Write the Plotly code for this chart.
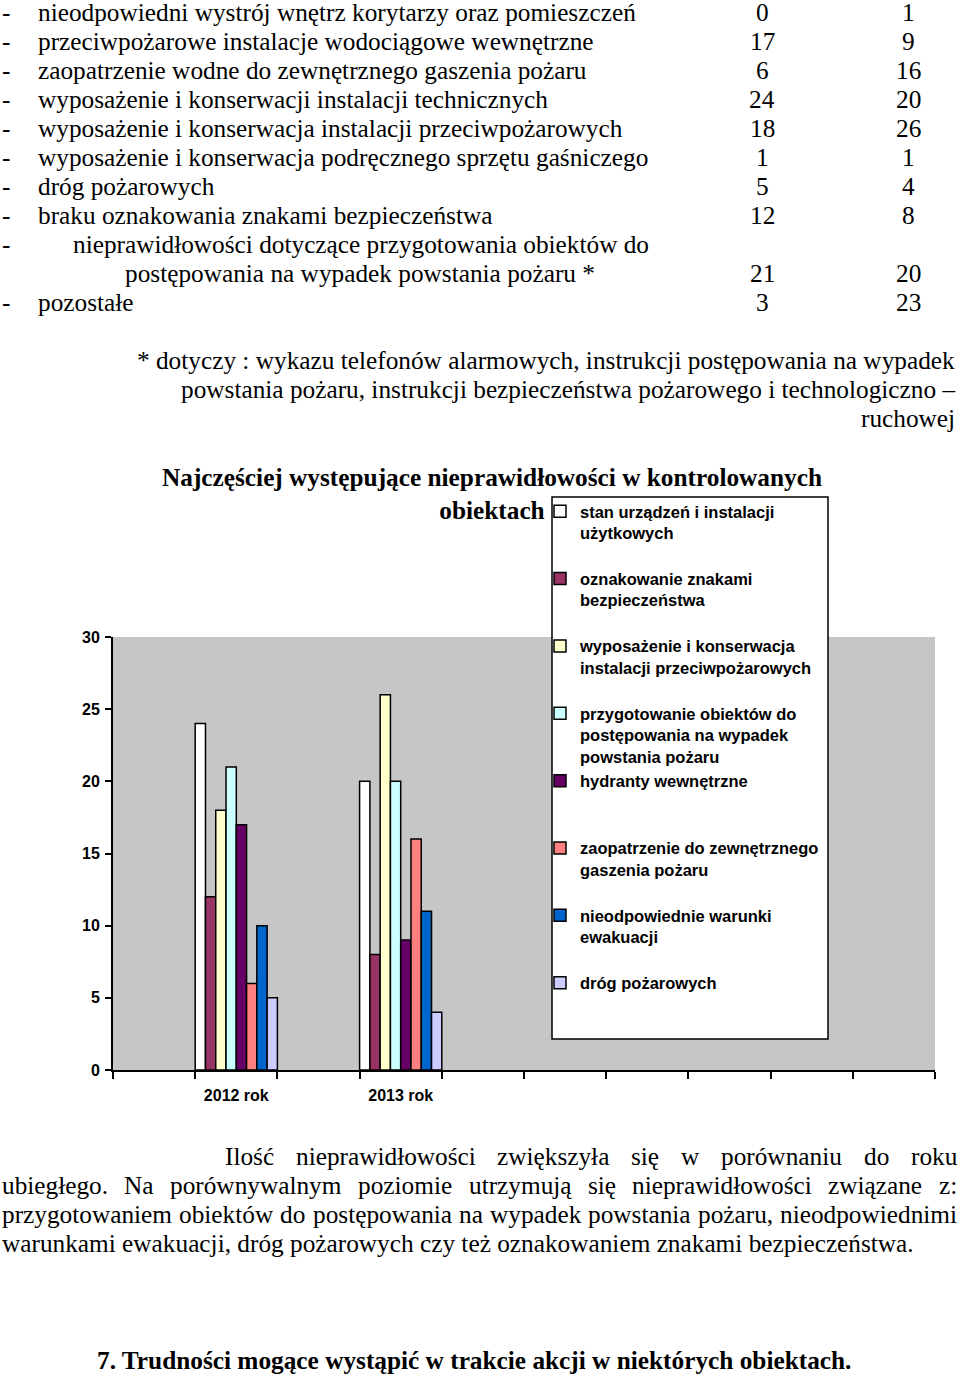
import plotly.graph_objects as go

# ---------------- data ----------------
table_items = [
    "nieodpowiedni wystrój wnętrz korytarzy oraz pomieszczeń",
    "przeciwpożarowe instalacje wodociągowe wewnętrzne",
    "zaopatrzenie wodne do zewnętrznego gaszenia pożaru",
    "wyposażenie i konserwacji instalacji technicznych",
    "wyposażenie i konserwacja instalacji przeciwpożarowych",
    "wyposażenie i konserwacja podręcznego sprzętu gaśniczego",
    "dróg pożarowych",
    "braku oznakowania znakami bezpieczeństwa",
    "nieprawidłowości dotyczące przygotowania obiektów do\npostępowania na wypadek powstania pożaru *",
    "pozostałe",
]
table_2012 = [0, 17, 6, 24, 18, 1, 5, 12, 21, 3]
table_2013 = [1, 9, 16, 20, 26, 1, 4, 8, 20, 23]

footnote_lines = [
    "* dotyczy : wykazu telefonów alarmowych, instrukcji postępowania na wypadek",
    "powstania pożaru, instrukcji bezpieczeństwa pożarowego i technologiczno –",
    "ruchowej",
]

chart_title = "Najczęściej występujące nieprawidłowości w kontrolowanych<br>obiektach"
years = ["2012 rok", "2013 rok"]
series_names = [
    "stan urządzeń i instalacji<br>użytkowych",
    "oznakowanie znakami<br>bezpieczeństwa",
    "wyposażenie i konserwacja<br>instalacji przeciwpożarowych",
    "przygotowanie obiektów do<br>postępowania na wypadek<br>powstania pożaru",
    "hydranty wewnętrzne",
    "zaopatrzenie do zewnętrznego<br>gaszenia pożaru",
    "nieodpowiednie warunki<br>ewakuacji",
    "dróg pożarowych",
]
values_2012 = [24, 12, 18, 21, 17, 6, 10, 5]
values_2013 = [20, 8, 26, 20, 9, 16, 11, 4]
series_colors = ["#FFFFFF", "#993366", "#FFFFCC", "#CCFFFF",
                 "#660066", "#FF8080", "#0066CC", "#CCCCFF"]

paragraph_lines = [
    "Ilość nieprawidłowości zwiększyła się w porównaniu do roku",
    "ubiegłego. Na porównywalnym poziomie utrzymują się nieprawidłowości związane z:",
    "przygotowaniem obiektów do postępowania na wypadek powstania pożaru, nieodpowiednimi",
    "warunkami ewakuacji, dróg pożarowych czy też oznakowaniem znakami bezpieczeństwa.",
]
heading = "7. Trudności mogące wystąpić w trakcie akcji w niektórych obiektach."

# ---------------- layout helpers ----------------
W, H = 960, 1377
PL, PR, PT, PB = 113, 935, 637, 1070   # plot area in pixels


def X(px):
    return (px - PL) / (PR - PL)


def Y(py):
    return (PB - py) / (PB - PT)


SERIF = "Liberation Serif, Times New Roman, serif"
SANS = "Liberation Sans, Arial, sans-serif"
FS = 25.3

TIMES_W = {' ': 250, ',': 250, '.': 250, ':': 278, '*': 500, '–': 500, '-': 333,
           'a': 444, 'b': 500, 'c': 444, 'd': 500, 'e': 444, 'f': 333, 'g': 500,
           'h': 500, 'i': 278, 'j': 278, 'k': 500, 'l': 278, 'm': 778, 'n': 500,
           'o': 500, 'p': 500, 'q': 500, 'r': 333, 's': 389, 't': 278, 'u': 500,
           'v': 500, 'w': 722, 'x': 500, 'y': 500, 'z': 444, 'I': 333, 'N': 722,
           'ą': 444, 'ć': 444, 'ę': 444, 'ł': 278, 'ń': 500, 'ó': 500, 'ś': 389,
           'ź': 444, 'ż': 444}


def tw(s, size=FS):
    return sum(TIMES_W.get(ch, 500) for ch in s) * size / 1000.0


annotations = []


def text(px, py, s, anchor="left", size=FS, bold=False):
    annotations.append(dict(
        x=X(px), y=Y(py), xref="paper", yref="paper", text=s, showarrow=False,
        xanchor=anchor, yanchor="middle", borderpad=0,
        font=dict(family=SERIF, size=size, color="black",
                  weight="bold" if bold else "normal")))


def justified(s, left, right, py):
    words = s.split(" ")
    total = sum(tw(w) for w in words)
    gap = (right - left - total) / (len(words) - 1)
    x = left
    for w in words:
        text(x, py, w)
        x += tw(w) + gap


# ---------------- table ----------------
row_y = 12
ROW_H = 29
for item, a, b in zip(table_items, table_2012, table_2013):
    lines = item.split("\n")
    text(1, row_y, "-")
    for k, line in enumerate(lines):
        text(37 if len(lines) == 1 else (72 if k == 0 else 124), row_y, line)
        if k < len(lines) - 1:
            row_y += ROW_H
    text(762, row_y, str(a), anchor="center")
    text(908, row_y, str(b), anchor="center")
    row_y += ROW_H

# ---------------- footnote ----------------
for i, line in enumerate(footnote_lines):
    text(956, 360 + 29 * i, line, anchor="right")

# ---------------- paragraph ----------------
justified(paragraph_lines[0], 224, 956, 1156)
justified(paragraph_lines[1], 1, 956, 1185)
justified(paragraph_lines[2], 1, 956, 1214)
text(1, 1243, paragraph_lines[3])
text(473.5, 1360, heading, anchor="center", bold=True)

# chart title (two centred lines)
text(491.5, 493, chart_title, anchor="center", bold=True)

# ---------------- chart ----------------
n_slots = 10
slot_names = [" " * (i + 1) for i in range(n_slots)]
slot_names[1] = years[0]
slot_names[3] = years[1]


def pad3(s):
    parts = s.split("<br>")
    while len(parts) < 3:
        parts.append(" ")
    return "<br>".join(parts)


fig = go.Figure()
for name, a, b, col in zip(series_names, values_2012, values_2013, series_colors):
    fig.add_trace(go.Bar(
        x=years, y=[a, b], name=pad3(name),
        marker=dict(color=col, line=dict(color="black", width=1.5)),
        hoverinfo="skip"))

fig.update_layout(
    width=W, height=H,
    margin=dict(l=PL, r=W - PR, t=PT, b=H - PB, pad=0),
    paper_bgcolor="white", plot_bgcolor="#C6C6C6",
    barmode="group", bargap=0, bargroupgap=0,
    showlegend=True,
    legend=dict(x=X(540), y=Y(494), xref="paper", yref="paper",
                xanchor="left", yanchor="top", valign="top",
                bgcolor="rgba(0,0,0,0)", borderwidth=0, tracegroupgap=0,
                font=dict(family=SANS, size=16.5, color="black", weight="bold")),
    xaxis=dict(type="category", categoryorder="array", categoryarray=slot_names,
               range=[-0.5, n_slots - 0.5], tickson="boundaries",
               ticks="outside", ticklen=7, tickwidth=2, tickcolor="black",
               ticklabelstandoff=10,
               showline=True, linewidth=2, linecolor="black", showgrid=False,
               tickfont=dict(family=SANS, size=16, color="black", weight="bold"),
               fixedrange=True),
    yaxis=dict(range=[0, 30], dtick=5, ticks="outside", ticklen=6, tickwidth=2,
               tickcolor="black", showline=True, linewidth=2, linecolor="black",
               showgrid=False, zeroline=False, ticklabelstandoff=2,
               tickfont=dict(family=SANS, size=16, color="black", weight="bold"),
               fixedrange=True),
    shapes=[dict(type="rect", xref="paper", yref="paper",
                 x0=X(552), x1=X(828), y0=Y(1039), y1=Y(497),
                 fillcolor="white", line=dict(color="black", width=1.5),
                 layer="above")],
    annotations=annotations,
)

fig.write_html("out.html",
               config={"displayModeBar": False, "staticPlot": True},
               post_script="document.body.style.margin='0px';"
                           "document.body.style.overflow='hidden';")
